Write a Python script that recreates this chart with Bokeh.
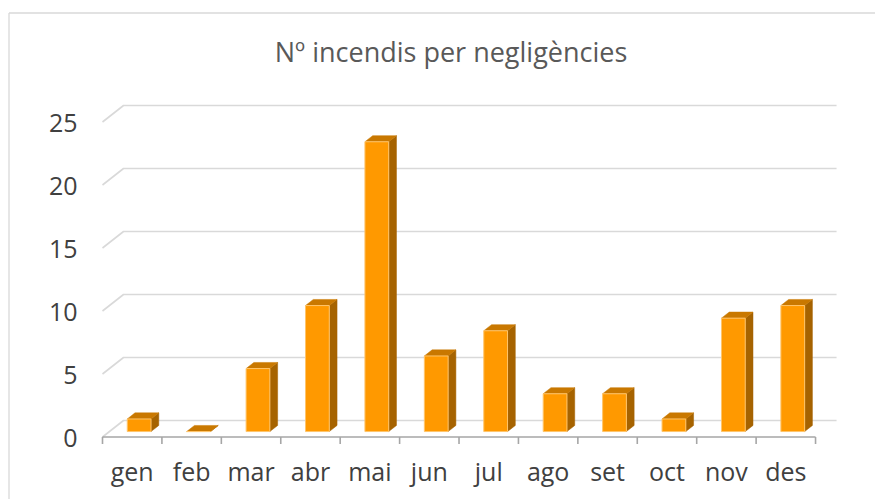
from bokeh.plotting import figure
from bokeh.models import Range1d
from bokeh.core.properties import value
from bokeh.embed import file_html
from bokeh.resources import INLINE

# ---- data ----
TITLE = "Nº incendis per negligències"
months = ["gen", "feb", "mar", "abr", "mai", "jun", "jul", "ago", "set", "oct", "nov", "des"]
counts = [1, 0, 5, 10, 23, 6, 8, 3, 3, 1, 9, 10]
y_ticks = [0, 5, 10, 15, 20, 25]
y_tick_labels = ["0", "5", "10", "15", "20", "25"]

# ---- layout / projection constants (pixels) ----
W, H = 875, 499
PX_PER_CAT = 59.42     # pixels per category on the front plane
PX_PER_UNIT = 12.6     # pixels per value unit
X0, Y0 = 102.0, 436.5  # canvas position of (category 0, value 0) on the front plane
DEPTH_DX_PX, DEPTH_DY_PX = 21.0, 16.5   # front plane -> back wall shift
DXF = DEPTH_DX_PX / PX_PER_CAT
DYF = DEPTH_DY_PX / PX_PER_UNIT
Z_FRONT, Z_BACK = 0.33, 0.70
HALF_W = 0.2
N = len(months)

x_start, x_end = -X0 / PX_PER_CAT, (W - X0) / PX_PER_CAT
y_start, y_end = (Y0 - H) / PX_PER_UNIT, Y0 / PX_PER_UNIT

p = figure(width=W, height=H, x_range=Range1d(x_start, x_end), y_range=Range1d(y_start, y_end),
           min_border=0, toolbar_location=None, output_backend="svg",
           x_axis_location=None, y_axis_location=None)
p.grid.visible = False
p.outline_line_color = None
p.background_fill_color = "white"
p.border_fill_color = "white"

GRID = "#D9D9D9"
AXIS = "#A6A6A6"
FONT = "Open Sans"

# outer chart border (left + top)
bx = x_start + 8.5 / PX_PER_CAT
by = y_end - 12.5 / PX_PER_UNIT
p.segment(x0=[bx, bx], y0=[by, by], x1=[bx, x_end], y1=[y_start, by], line_color=GRID, line_width=1.3)

# walls: back gridlines and left-wall diagonals
gx, gy = [], []
for v in y_ticks:
    gx.append([0, DXF, N + DXF])
    gy.append([v, v + DYF, v + DYF])
p.multi_line(xs=gx, ys=gy, line_color=GRID, line_width=1.6)

# front category axis + ticks
tick_len = 7.0 / PX_PER_UNIT
p.segment(x0=[0], y0=[0], x1=[N], y1=[0], line_color=AXIS, line_width=1.6)
p.segment(x0=list(range(N + 1)), y0=[0] * (N + 1), x1=list(range(N + 1)), y1=[-tick_len] * (N + 1),
          line_color=AXIS, line_width=1.6)

# bars (pseudo 3D)
dz = Z_BACK - Z_FRONT
lefts, rights, bottoms, tops = [], [], [], []
top_xs, top_ys, side_xs, side_ys = [], [], [], []
for i, v in enumerate(counts):
    cx = i + 0.5
    l = cx - HALF_W + Z_FRONT * DXF
    r = cx + HALF_W + Z_FRONT * DXF
    b = Z_FRONT * DYF
    t = v + Z_FRONT * DYF
    ddx, ddy = dz * DXF, dz * DYF
    lefts.append(l); rights.append(r); bottoms.append(b); tops.append(t)
    top_xs.append([l, r, r + ddx, l + ddx])
    top_ys.append([t, t, t + ddy, t + ddy])
    side_xs.append([r, r + ddx, r + ddx, r])
    side_ys.append([b, b + ddy, t + ddy, t])

p.patches(xs=side_xs, ys=side_ys, fill_color="#A66300", line_color="#A66300", line_width=0.5)
p.patches(xs=top_xs, ys=top_ys, fill_color="#C97800", line_color="#C97800", line_width=0.5)
p.quad(left=lefts, right=rights, bottom=bottoms, top=tops, fill_color="#FF9900",
       line_color="#FFC56B", line_width=1)

# y tick labels
p.text(x=[0] * len(y_ticks), y=y_ticks, text=y_tick_labels, x_offset=-25, y_offset=1,
       text_align="right", text_baseline="middle", text_font=value(FONT),
       text_font_size="25px", text_color="#404040")

# x tick labels
p.text(x=[i + 0.5 for i in range(N)], y=[0] * N, text=months, y_offset=33.5,
       text_align="center", text_baseline="middle", text_font=value(FONT),
       text_font_size="25px", text_color="#404040")

# title
p.text(x=[N / 2], y=[y_end], text=[TITLE], x_offset=-8, y_offset=51,
       text_align="center", text_baseline="middle", text_font=value(FONT),
       text_font_size="27px", text_color="#595959")

open("out.html", "w").write(file_html(p, INLINE))
